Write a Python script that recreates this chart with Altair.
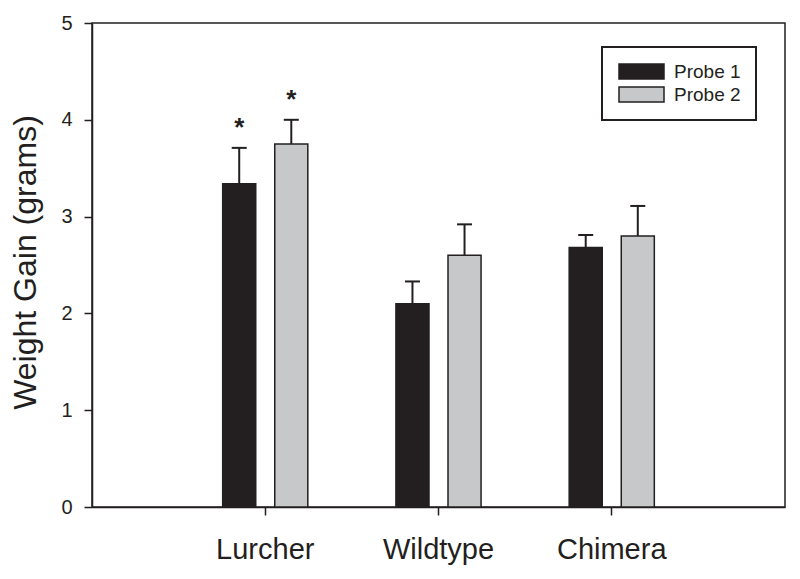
import altair as alt
import pandas as pd

categories = ["Lurcher", "Wildtype", "Chimera"]
probes = ["Probe 1", "Probe 2"]
probe1_mean = [3.34, 2.10, 2.68]
probe1_sem = [0.37, 0.23, 0.13]
probe2_mean = [3.75, 2.60, 2.80]
probe2_sem = [0.25, 0.32, 0.31]
probe1_mark = ["*", "", ""]
probe2_mark = ["*", "", ""]

rows = []
for i, c in enumerate(categories):
    rows.append({"group": c, "probe": probes[0], "value": probe1_mean[i],
                 "upper": probe1_mean[i] + probe1_sem[i], "mark": probe1_mark[i]})
    rows.append({"group": c, "probe": probes[1], "value": probe2_mean[i],
                 "upper": probe2_mean[i] + probe2_sem[i], "mark": probe2_mark[i]})
df = pd.DataFrame(rows)

INK = "#231f20"
FONT = "Liberation Sans"

x = alt.X("group:N", sort=categories, title=None,
          scale=alt.Scale(paddingInner=0, paddingOuter=0.5),
          axis=alt.Axis(labelAngle=0, labelFontSize=29, labelColor=INK,
                        labelPadding=20, tickSize=8, tickWidth=1.5,
                        tickColor=INK, domainColor=INK, domainWidth=1.5,
                        grid=False, labelFont=FONT))
xo = alt.XOffset("probe:N", sort=probes,
                 scale=alt.Scale(paddingInner=0.365, paddingOuter=0.846))
y = alt.Y("value:Q", title="Weight Gain (grams)",
          scale=alt.Scale(domain=[0, 5], nice=False),
          axis=alt.Axis(values=[0, 1, 2, 3, 4, 5], format="d", labelFontSize=20,
                        labelColor=INK, labelPadding=12, tickSize=8,
                        tickWidth=1.5, tickColor=INK, domainColor=INK,
                        domainWidth=1.5, grid=False, labelFont=FONT,
                        titleFont=FONT, titleFontSize=32,
                        titleFontWeight="normal", titleColor=INK,
                        titleAngle=270, titleX=-57, titleY=239,
                        titleAlign="center", titleBaseline="alphabetic"))

color = alt.Color("probe:N", sort=probes, title=None,
                  scale=alt.Scale(domain=probes, range=[INK, "#c7c8ca"]),
                  legend=alt.Legend(orient="none", legendX=510, legendY=24,
                                    padding=15, strokeColor=INK,
                                    symbolType="M-1,-1H5V1H-1Z", symbolSize=225,
                                    symbolStrokeColor=INK, symbolStrokeWidth=1.5,
                                    symbolOpacity=1, labelOffset=38,
                                    labelFontSize=19, labelFont=FONT,
                                    labelColor=INK, rowPadding=2))

base = alt.Chart(df)

bars = base.mark_bar(stroke=INK, strokeWidth=1.5, opacity=1).encode(
    x=x, xOffset=xo, y=y, color=color)

err_rule = base.mark_rule(color=INK, strokeWidth=2).encode(
    x=alt.X("group:N", sort=categories), xOffset=xo,
    y=alt.Y("value:Q"), y2=alt.Y2("upper:Q"))

err_cap = base.mark_tick(color=INK, size=15, thickness=2, opacity=1).encode(
    x=alt.X("group:N", sort=categories), xOffset=xo,
    y=alt.Y("upper:Q"))

stars = base.mark_text(fontSize=26, font=FONT, fontWeight="bold", color=INK,
                       dy=-12, baseline="alphabetic").encode(
    x=alt.X("group:N", sort=categories), xOffset=xo,
    y=alt.Y("upper:Q"), text="mark:N")

chart = alt.layer(bars, err_rule, err_cap, stars).properties(
    width=693, height=484,
    autosize=alt.AutoSizeParams(type="none"),
    padding={"left": 84, "top": 15, "right": 5, "bottom": 62},
).configure_view(
    stroke=INK, strokeWidth=1.5
).configure_legend(
    strokeWidth=2
)

chart.save("out.html", embed_options={"renderer": "svg", "actions": False})
